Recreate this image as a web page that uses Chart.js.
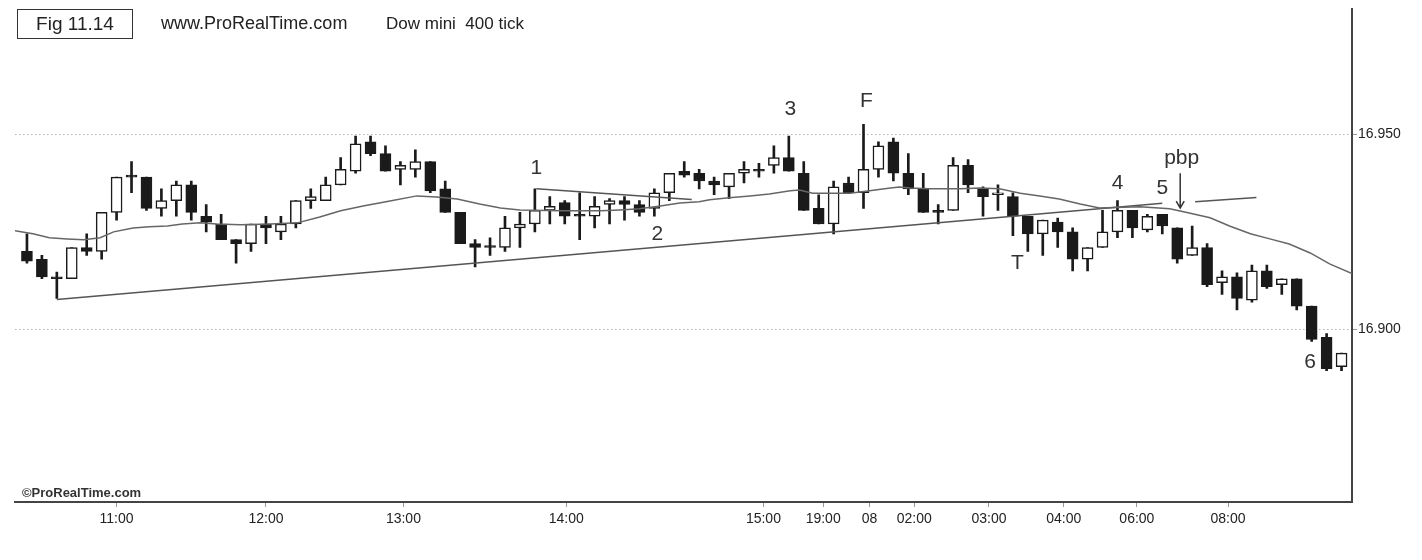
<!DOCTYPE html>
<html>
<head>
<meta charset="utf-8">
<script src="https://cdn.jsdelivr.net/npm/chart.js@4.4.0/dist/chart.umd.min.js"></script>
<style>
  html, body { margin: 0; padding: 0; background: #fff; }
  #wrap { position: relative; width: 1422px; height: 560px; font-family: 'Liberation Sans', Arial, sans-serif; color: #222; }
  #chart { position: absolute; left: 0; top: 0; }
  .fig { position: absolute; left: 17px; top: 9px; width: 114px; height: 28px; border: 1.5px solid #333;
         font-size: 19px; line-height: 28px; text-align: center; color: #222; }
  .hdr { position: absolute; top: 13px; font-size: 18px; white-space: pre; }
  .wm { position: absolute; left: 22px; top: 485px; font-size: 13px; font-weight: bold; color: #333; }
</style>
</head>
<body>
<div id="wrap">
  <canvas id="chart" width="1422" height="560"></canvas>
  <div class="fig">Fig 11.14</div>
  <div class="hdr" style="left:161px">www.ProRealTime.com</div>
  <div class="hdr" style="left:386px;font-size:17px;top:14px">Dow mini  400 tick</div>
  <div class="wm">©ProRealTime.com</div>
</div>
<script>
// datos de las velas (una por cada 400 ticks)
const opens  = [16920,16918,16913.5,16913,16921,16920,16930,16939.5,16939,16931,
                16933,16937,16929,16927,16923,16922,16927,16925,16927,16933,
                16933,16937,16940.5,16948,16945,16941,16941,16943,16936,16930,
                16922,16921.5,16921,16926,16927,16930.5,16932.5,16929.5,16929,16932,
                16933,16932,16931,16935,16940.5,16940,16938,16936.5,16940,16941,
                16942,16944,16940,16931,16927,16937.5,16935,16941,16948,16940,
                16936,16930.5,16930.5,16942,16936,16934.5,16934,16929,16924.5,16927.5,
                16925,16918,16921,16925,16930.5,16925.5,16929.5,16926,16919,16921,
                16912,16913.5,16907.5,16915,16911.5,16913,16906,16898,16890.5];
const highs  = [16924.5,16919,16914.7,16921,16924.5,16930,16939,16943,16939,16936,
                16938,16938,16932,16929.5,16923,16927,16929,16929,16933,16936,
                16939,16944,16949.5,16949.5,16947,16943,16946,16943,16938,16930,
                16923,16923.5,16929,16930,16936,16934,16933,16935,16934,16933.5,
                16934,16933,16936,16940,16943,16941,16939,16940,16943,16942.5,
                16947,16949.5,16943,16934.5,16938,16939,16952.5,16948,16949,16945,
                16940,16932,16944,16943.5,16936.5,16937,16935,16929,16928,16928.5,
                16926,16921,16930.5,16933,16930.5,16929.5,16929.5,16926,16926.5,16922,
                16915,16914.5,16916.5,16916.5,16913,16913,16906,16899,16894];
const lows   = [16917,16913,16908,16913,16919,16918,16928,16935,16930.5,16929,
                16929,16928,16925,16923,16917,16920,16922,16923,16926,16931,
                16933,16937,16940,16944.5,16940.5,16937,16939,16935,16930,16922,
                16916,16919,16920,16921,16925,16927,16927,16923,16926,16927,
                16928,16929,16929,16933,16939,16936,16934.5,16933.5,16937.5,16939,
                16940,16940.5,16930.5,16927,16924.5,16935,16931,16939,16938,16934.5,
                16930,16927,16930.5,16935,16929,16930.5,16924,16920,16919,16921,
                16915,16915,16921,16923.5,16923.5,16925,16924.5,16917,16919,16911,
                16909,16905,16907,16910.5,16909,16905,16897,16889.5,16889.5];
const closes = [16917.5,16913.5,16913,16921,16920,16930,16939,16939,16931,16933,
                16937,16930,16927.5,16923,16922,16927,16926,16927,16933,16934,
                16937,16941,16947.5,16945,16940.5,16942,16943,16935.5,16930,16922,
                16921,16921,16926,16927,16930.5,16931.5,16929,16929,16931.5,16933,
                16932,16930,16935,16940,16939.5,16938,16937,16940,16941,16940.5,
                16944,16940.5,16930.5,16927,16936.5,16935,16941,16947,16940,16936,
                16930,16930,16942,16937,16934,16935,16929,16924.5,16928,16925,
                16918,16921,16925,16930.5,16926,16929,16926.5,16918,16921,16911.5,
                16913.5,16908,16915,16911,16913,16906,16897.5,16890,16894];

// media móvil (posición en nº de vela, precio)
const maX = [-0.8,0.4,1.5,2.7,3.8,4.9,5.8,7.1,8.2,9.4,10.4,11.6,12.7,14.3,16.3,18.1,19.6,21,22.5,24.3,
             26.1,27.4,28.8,30.3,31.7,33,35.7,38.4,39.7,41,42.4,43.7,45,45.7,47,48.4,49.7,51.1,51.7,52.6,
             55.1,56.4,57.8,58.4,59.1,60.4,62.5,63.8,65.1,66.5,67.8,69.1,70.5,71.8,74.5,76.5,77.8,79.2,80.5,81.9,
             83.2,84.5,85.9,87.2,88.7];
const maY = [16925.3,16924.5,16923.5,16923.2,16923,16923.5,16925,16926,16926.3,16926.5,16927,16927.3,16927,16926.8,16927,16927.3,16928.8,16930.4,16931.6,16932.9,
             16934.2,16933.9,16933.4,16932.1,16931.1,16930.6,16930.4,16930.4,16930.6,16930.9,16931.6,16932.4,16932.7,16933.2,16933.7,16934.2,16934.7,16935.5,16935.7,16934.9,
             16934.9,16935.5,16936.2,16936.5,16936.2,16936,16936,16936.2,16936,16934.9,16934.2,16933.4,16932.1,16931.1,16931.4,16930.9,16929.8,16928.6,16926.5,16924.5,
             16923.2,16921.9,16919.6,16916.8,16914.3];

// líneas de tendencia dibujadas a mano
const trendX = [2, 76];
const trendY = [16907.7, 16932.3];
const trend2X = [78.2, 82.3];
const trend2Y = [16932.7, 16933.8];
const chanX = [34.1, 44.5];
const chanY = [16936, 16933.3];

// ejes
const tickIdx = [6, 16, 25.2, 36.1, 49.3, 53.3, 56.4, 59.4, 64.4, 69.4, 74.3, 80.4];
const tickLabels = ['11:00','12:00','13:00','14:00','15:00','19:00','08','02:00','03:00','04:00','06:00','08:00'];
const priceTicks = [16900, 16950];

// anotaciones del libro
const notes = [
  { t: '1', i: 34.1, p: 16941.3 },
  { t: '2', i: 42.2, p: 16924.5 },
  { t: '3', i: 51.1, p: 16956.4 },
  { t: 'F', i: 56.2, p: 16958.4 },
  { t: 'T', i: 66.3, p: 16917.1 },
  { t: '4', i: 73.0, p: 16937.5 },
  { t: '5', i: 76.0, p: 16936.2 },
  { t: 'pbp', i: 77.3, p: 16943.9 },
  { t: '6', i: 85.9, p: 16891.6 }
];
const arrow = { i: 77.2, from: 16940, to: 16931.1 };

const idx = opens.map((_, i) => i);
const toXY = (xs, ys) => xs.map((x, k) => ({ x: x, y: ys[k] }));

const notesPlugin = {
  id: 'notes',
  afterDatasetsDraw(chart) {
    const { ctx, scales: { x, y } } = chart;
    ctx.save();
    ctx.fillStyle = '#333';
    ctx.font = '21px "Liberation Sans", Arial, sans-serif';
    ctx.textAlign = 'center';
    ctx.textBaseline = 'middle';
    notes.forEach(n => ctx.fillText(n.t, x.getPixelForValue(n.i), y.getPixelForValue(n.p)));
    // flecha pbp
    const ax = x.getPixelForValue(arrow.i);
    const a1 = y.getPixelForValue(arrow.from), a2 = y.getPixelForValue(arrow.to);
    ctx.strokeStyle = '#333';
    ctx.lineWidth = 1.5;
    ctx.beginPath();
    ctx.moveTo(ax, a1); ctx.lineTo(ax, a2);
    ctx.moveTo(ax - 4, a2 - 7); ctx.lineTo(ax, a2); ctx.lineTo(ax + 4, a2 - 7);
    ctx.stroke();
    ctx.restore();
  }
};

const lineStyle = { type: 'line', borderColor: '#555', borderWidth: 1.5, pointRadius: 0, fill: false, tension: 0, order: 0 };

new Chart(document.getElementById('chart'), {
  type: 'bar',
  data: {
    datasets: [
      { label: 'mecha', data: idx.map(i => ({ x: i, y: [lows[i], highs[i]] })),
        backgroundColor: '#1a1a1a', barThickness: 2, grouped: false, order: 3 },
      { label: 'cuerpo', data: idx.map(i => ({ x: i, y: [opens[i], closes[i]] })),
        backgroundColor: idx.map(i => closes[i] >= opens[i] ? '#ffffff' : '#1a1a1a'),
        borderColor: '#1a1a1a', borderWidth: 1.5, borderSkipped: false,
        barThickness: 11, grouped: false, order: 2 },
      Object.assign({ label: 'media', data: toXY(maX, maY) }, lineStyle, { borderColor: '#666' }),
      Object.assign({ label: 'tendencia', data: toXY(trendX, trendY) }, lineStyle),
      Object.assign({ label: 'tendencia2', data: toXY(trend2X, trend2Y) }, lineStyle),
      Object.assign({ label: 'canal', data: toXY(chanX, chanY) }, lineStyle)
    ]
  },
  options: {
    responsive: false,
    animation: false,
    devicePixelRatio: 1,
    layout: { padding: { left: 15, top: 3, right: 0, bottom: 0 } },
    plugins: { legend: { display: false }, tooltip: { enabled: false } },
    scales: {
      x: {
        type: 'linear', min: -0.8, max: 88.7, offset: false,
        afterBuildTicks: s => { s.ticks = tickIdx.map(v => ({ value: v })); },
        afterFit: s => { s.height = 58; },
        ticks: { autoSkip: false, maxRotation: 0, padding: 4, color: '#222',
                 font: { family: '"Liberation Sans", Arial', size: 14 },
                 callback: (v, k) => tickLabels[k] },
        grid: { drawOnChartArea: false, offset: false, tickLength: 5, tickColor: '#999', tickWidth: 1 },
        border: { display: true, color: '#444', width: 2 }
      },
      y: {
        position: 'right', min: 16855.9, max: 16981.9,
        afterBuildTicks: s => { s.ticks = priceTicks.map(v => ({ value: v })); },
        afterFit: s => { s.width = 70; },
        ticks: { padding: 1, color: '#222', font: { family: '"Liberation Sans", Arial', size: 14 },
                 callback: v => Math.floor(v / 1000) + '.' + String(v % 1000).padStart(3, '0') },
        grid: { color: '#b5b5b5', tickLength: 5, tickColor: '#999', tickBorderDash: [] },
        border: { display: true, color: '#444', width: 2, dash: [1.5, 2.5] }
      }
    }
  },
  plugins: [notesPlugin]
});
</script>
</body>
</html>
